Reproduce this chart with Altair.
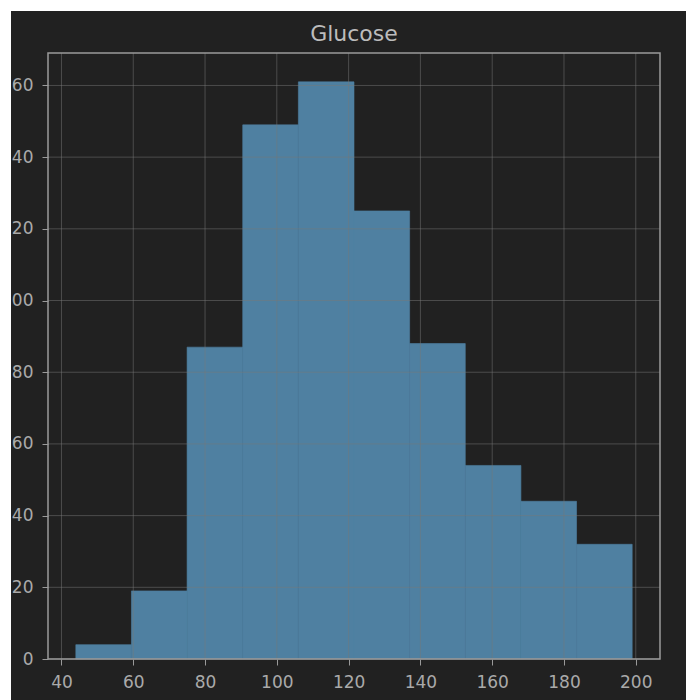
import altair as alt
import pandas as pd

# Histogram of Glucose (10 bins)
bin_start = [44.0, 59.5, 75.0, 90.5, 106.0, 121.5, 137.0, 152.5, 168.0, 183.5]
bin_end = [59.5, 75.0, 90.5, 106.0, 121.5, 137.0, 152.5, 168.0, 183.5, 199.0]
counts = [4, 19, 87, 149, 161, 125, 88, 54, 44, 32]

x_ticks = [40, 60, 80, 100, 120, 140, 160, 180, 200]
y_ticks = [0, 20, 40, 60, 80, 100, 120, 140, 160]
title_text = "Glucose"

df = pd.DataFrame({"start": bin_start, "end": bin_end, "count": counts})
xg = pd.DataFrame({"start": x_ticks})
yg = pd.DataFrame({"count": y_ticks})

W, H = 612, 606
PAD = {"left": 48, "top": 53, "right": 26, "bottom": 41}
FONT = "DejaVu Sans"
BG = "#212121"
BAR = "#4f80a1"

xscale = alt.Scale(domain=[36.25, 206.75], nice=False, zero=False)
yscale = alt.Scale(domain=[0, 169.05], nice=False)

axis_common = dict(
    domain=False,
    grid=False,
    tickColor="#9a9a9a",
    tickSize=6,
    tickWidth=1,
    labelColor="#aaaaaa",
    labelFont=FONT,
    labelFontSize=17,
    title=None,
)
xaxis = alt.Axis(values=x_ticks, labelPadding=9, **axis_common)
yaxis = alt.Axis(values=y_ticks, labelPadding=9, **axis_common)

bars = alt.Chart(df).mark_rect(color=BAR, stroke=BAR, strokeWidth=0.6).encode(
    x=alt.X("start:Q", scale=xscale, axis=xaxis),
    x2="end:Q",
    y=alt.Y("count:Q", scale=yscale, axis=yaxis),
    y2=alt.datum(0),
)

xgrid = alt.Chart(xg).mark_rule(color="#777777", opacity=0.5, strokeWidth=1).encode(
    x=alt.X("start:Q", scale=xscale, axis=xaxis)
)
ygrid = alt.Chart(yg).mark_rule(color="#777777", opacity=0.5, strokeWidth=1).encode(
    y=alt.Y("count:Q", scale=yscale, axis=yaxis)
)

frame = alt.Chart(alt.Data(values=[{}])).mark_rect(
    fill=None, stroke="#9a9a9a", strokeWidth=1.5
).encode(x=alt.value(0), x2=alt.value(W), y=alt.value(0), y2=alt.value(H))

# white page margin visible at the top and left edges of the reference crop
top_strip = alt.Chart(alt.Data(values=[{}])).mark_rect(color="white").encode(
    x=alt.value(-PAD["left"]), x2=alt.value(W + PAD["right"]),
    y=alt.value(-PAD["top"]), y2=alt.value(-PAD["top"] + 11)
)
left_strip = alt.Chart(alt.Data(values=[{}])).mark_rect(color="white").encode(
    x=alt.value(-PAD["left"]), x2=alt.value(-PAD["left"] + 11),
    y=alt.value(-PAD["top"]), y2=alt.value(H + PAD["bottom"])
)

title = alt.Chart(alt.Data(values=[{}])).mark_text(
    text=title_text, font=FONT, fontSize=22, color="#bcbcbc",
    align="center", baseline="alphabetic"
).encode(x=alt.value(W / 2), y=alt.value(-12))

chart = alt.layer(bars, xgrid, ygrid, frame, top_strip, left_strip, title).properties(
    width=W,
    height=H,
    autosize=alt.AutoSizeParams(type="none"),
    padding=PAD,
).configure(background=BG).configure_view(stroke=None)

chart.save("out.html", embed_options={"renderer": "svg", "actions": False})
